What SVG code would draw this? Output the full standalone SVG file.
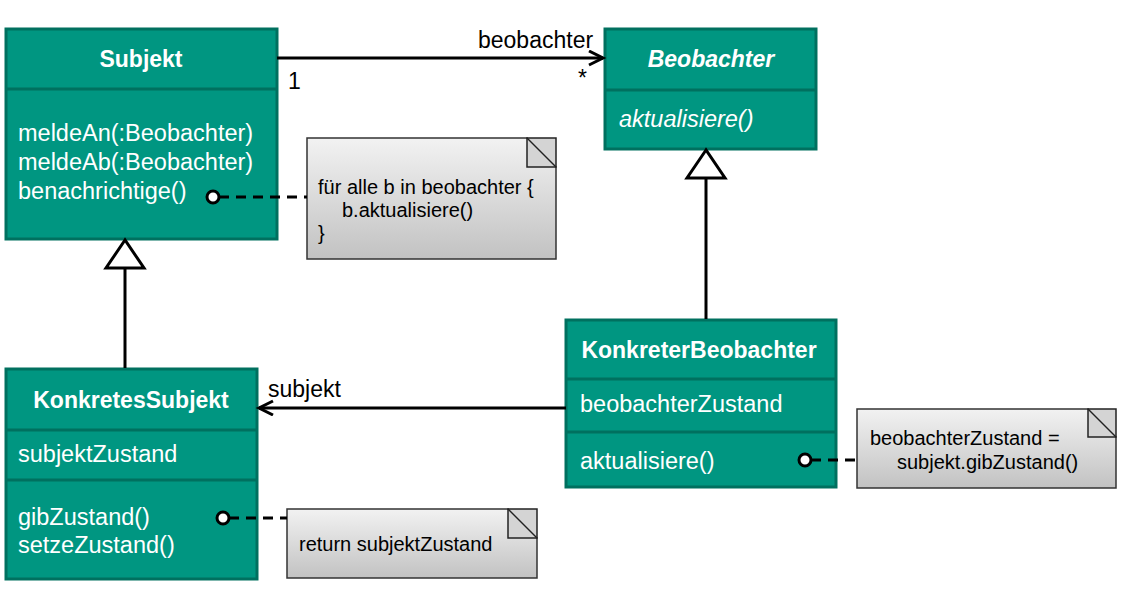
<svg xmlns="http://www.w3.org/2000/svg" width="1132" height="595" viewBox="0 0 1132 595">
<defs>
<linearGradient id="ng" x1="0" y1="0" x2="0" y2="1">
<stop offset="0" stop-color="#f2f2f2"/>
<stop offset="1" stop-color="#c2c2c2"/>
</linearGradient>
<marker id="open" markerWidth="20" markerHeight="20" refX="16" refY="8" orient="auto" markerUnits="userSpaceOnUse">
<path d="M2,1 L16,8 L2,15" fill="none" stroke="#000" stroke-width="3"/>
</marker>
</defs>
<style>
.cls{fill:#009681;stroke:#00705f;stroke-width:3}
.div{stroke:#00705f;stroke-width:3}
.t{font-family:"Liberation Sans",Arial,sans-serif;font-size:23.5px;fill:#fff}
.tb{font-family:"Liberation Sans",Arial,sans-serif;font-size:23px;font-weight:bold;fill:#fff}
.lbl{font-family:"Liberation Sans",Arial,sans-serif;font-size:23px;fill:#000}
.note{fill:url(#ng);stroke:#333;stroke-width:1.5}
.fold{fill:#d4d4d4;stroke:#222;stroke-width:1.5}
.nt{font-family:"Liberation Sans",Arial,sans-serif;font-size:20px;fill:#000}
.ln{stroke:#000;stroke-width:3;fill:none}
.dash{stroke:#000;stroke-width:3;stroke-dasharray:10,7;fill:none}
.dot{fill:#fff;stroke:#000;stroke-width:3}
.tri{fill:#fff;stroke:#000;stroke-width:3}
</style>

<g id="subjekt">
<rect class="cls" x="6" y="29" width="271" height="210"/>
<line class="div" x1="6" y1="89" x2="277" y2="89"/>
<text class="tb" x="141" y="67" text-anchor="middle">Subjekt</text>
<text class="t" x="18" y="141">meldeAn(:Beobachter)</text>
<text class="t" x="18" y="170">meldeAb(:Beobachter)</text>
<text class="t" x="18" y="199">benachrichtige()</text>
</g>

<g id="beobachter">
<rect class="cls" x="605" y="29" width="211" height="120"/>
<line class="div" x1="605" y1="90" x2="816" y2="90"/>
<text class="tb" x="711" y="67" text-anchor="middle" font-style="italic">Beobachter</text>
<text class="t" x="619" y="127" font-style="italic">aktualisiere()</text>
</g>

<g id="note1">
<polygon class="note" points="307,138 527,138 556,167 556,259 307,259"/>
<polygon class="fold" points="527,138 556,138 556,167 527,167"/>
<line x1="527" y1="138" x2="556" y2="167" stroke="#222" stroke-width="1.5"/>
<text class="nt" x="318" y="194">für alle b in beobachter {</text>
<text class="nt" x="342" y="217">b.aktualisiere()</text>
<text class="nt" x="318" y="240">}</text>
</g>

<g id="konkretesSubjekt">
<rect class="cls" x="6" y="369" width="251" height="210"/>
<line class="div" x1="6" y1="430" x2="257" y2="430"/>
<line class="div" x1="6" y1="480" x2="257" y2="480"/>
<text class="tb" x="131" y="408" text-anchor="middle">KonkretesSubjekt</text>
<text class="t" x="18" y="462">subjektZustand</text>
<text class="t" x="18" y="525">gibZustand()</text>
<text class="t" x="18" y="553">setzeZustand()</text>
</g>

<g id="konkreterBeobachter">
<rect class="cls" x="566" y="320" width="270" height="167"/>
<line class="div" x1="566" y1="379" x2="836" y2="379"/>
<line class="div" x1="566" y1="432" x2="836" y2="432"/>
<text class="tb" x="699" y="358" text-anchor="middle">KonkreterBeobachter</text>
<text class="t" x="580" y="412">beobachterZustand</text>
<text class="t" x="580" y="469">aktualisiere()</text>
</g>

<g id="note2">
<polygon class="note" points="287,509 508,509 537,538 537,578 287,578"/>
<polygon class="fold" points="508,509 537,509 537,538 508,538"/>
<line x1="508" y1="509" x2="537" y2="538" stroke="#222" stroke-width="1.5"/>
<text class="nt" x="299" y="551">return subjektZustand</text>
</g>

<g id="note3">
<polygon class="note" points="857,409 1088,409 1116,437 1116,488 857,488"/>
<polygon class="fold" points="1088,409 1116,409 1116,437 1088,437"/>
<line x1="1088" y1="409" x2="1116" y2="437" stroke="#222" stroke-width="1.5"/>
<text class="nt" x="870" y="445">beobachterZustand =</text>
<text class="nt" x="897" y="469">subjekt.gibZustand()</text>
</g>

<g id="connectors">
<line class="ln" x1="277" y1="58" x2="603" y2="58" marker-end="url(#open)"/>
<text class="lbl" x="478" y="48">beobachter</text>
<text class="lbl" x="288" y="89">1</text>
<text class="lbl" x="578" y="86">*</text>

<line class="ln" x1="566" y1="408" x2="259" y2="408" marker-end="url(#open)"/>
<text class="lbl" x="268" y="397">subjekt</text>

<line class="ln" x1="125" y1="368" x2="125" y2="268"/>
<polygon class="tri" points="125,240 106,268 144,268"/>

<line class="ln" x1="706" y1="319" x2="706" y2="178"/>
<polygon class="tri" points="706,150 687,178 725,178"/>

<line class="dash" x1="219" y1="197" x2="307" y2="197"/>
<circle class="dot" cx="213" cy="197" r="6"/>

<line class="dash" x1="229" y1="518" x2="287" y2="518"/>
<circle class="dot" cx="223" cy="518" r="6"/>

<line class="dash" x1="811" y1="460" x2="857" y2="460"/>
<circle class="dot" cx="805" cy="460" r="6"/>
</g>
</svg>
